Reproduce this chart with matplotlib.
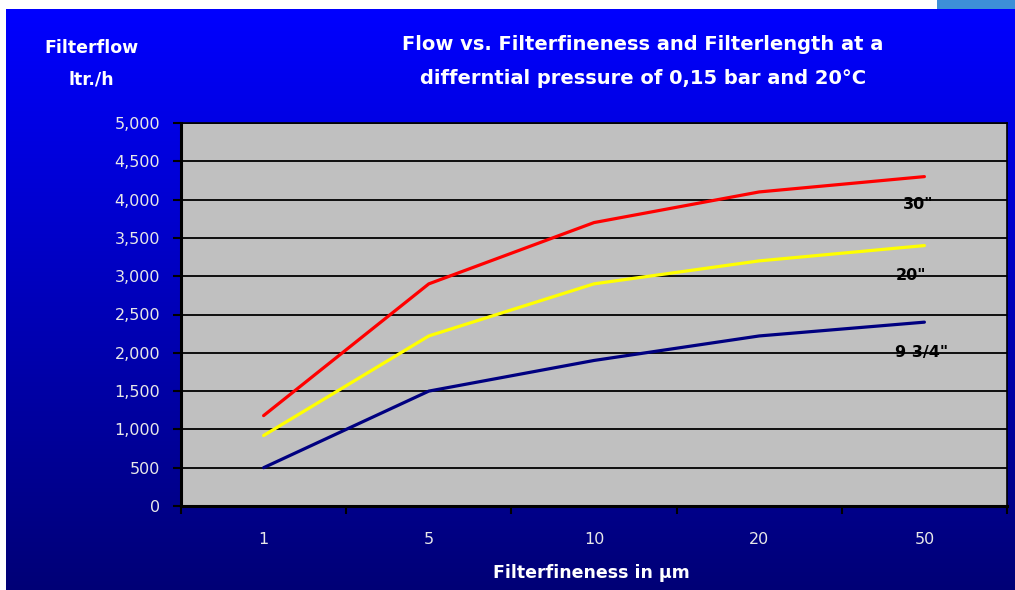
import numpy as np
import matplotlib
matplotlib.use("Agg")
import matplotlib.pyplot as plt
from matplotlib.ticker import FuncFormatter, FixedLocator

# ---- data ----
categories = ["1", "5", "10", "20", "50"]
flow_30 = [1180, 2900, 3700, 4100, 4300]
flow_20 = [920, 2220, 2900, 3200, 3400]
flow_9_75 = [500, 1500, 1900, 2220, 2400]
series_names = ['30"', '20"', '9 3/4"']
y_ticks = list(range(0, 5001, 500))

W, H = 1015, 590
fig = plt.figure(figsize=(W / 100, H / 100), dpi=100)
fig.patch.set_facecolor("white")

# background gradient
bg = fig.add_axes([6 / W, 0, 1 - 6 / W, (H - 9) / H], zorder=-10)
grad = np.linspace(0, 1, 256)[:, None]
top = np.array([0, 0, 255]) / 255
bot = np.array([0, 0, 118]) / 255
img = top[None, None, :] * (1 - grad[..., None]) + bot[None, None, :] * grad[..., None]
bg.imshow(img, aspect="auto", extent=[0, 1, 0, 1])
bg.set_axis_off()
# light blue patch top right
patch = fig.add_axes([937 / W, (H - 9) / H, 1 - 937 / W, 9 / H], zorder=-10)
patch.set_facecolor("#3d8fd8")
patch.set_xticks([]); patch.set_yticks([])
for s in patch.spines.values():
    s.set_visible(False)

ax = fig.add_axes([181 / W, 84 / H, (1007 - 181) / W, (506 - 123) / H])
ax.set_facecolor("#c0c0c0")
x = np.arange(len(categories))
ax.plot(x, flow_30, color="#ff0000", lw=2.3, solid_capstyle="round", zorder=3)
ax.plot(x, flow_20, color="#ffff00", lw=2.3, solid_capstyle="round", zorder=3)
ax.plot(x, flow_9_75, color="#000080", lw=2.3, solid_capstyle="round", zorder=3)

ax.set_xlim(-0.5, len(categories) - 0.5)
ax.set_ylim(0, 5000)
ax.set_yticks(y_ticks)
ax.yaxis.set_major_formatter(FuncFormatter(lambda v, p: f"{int(v):,}"))
ax.grid(axis="y", color="black", lw=1.3, zorder=1)
ax.set_axisbelow(True)

fam = "DejaVu Sans"

ax.set_xticks(x)
ax.set_xticklabels(categories)
ax.xaxis.set_minor_locator(FixedLocator(np.arange(-0.5, len(categories), 1.0)))
ax.tick_params(axis="x", which="major", length=0, pad=19, labelsize=11.5, labelcolor="#e8e8e8")
ax.tick_params(axis="x", which="minor", length=5.5, width=1.5, color="black")
ax.tick_params(axis="y", length=5.5, width=1.5, color="black", pad=9.5, labelsize=11.5, labelcolor="#e8e8e8")

for side in ["left", "bottom"]:
    ax.spines[side].set_linewidth(2.2)
    ax.spines[side].set_color("black")
for side in ["top", "right"]:
    ax.spines[side].set_linewidth(1.2)
    ax.spines[side].set_color("black")

# series labels
lab_pos = [(3.96, 3940), (3.92, 3010), (3.98, 2010)]
for name, (lx, ly) in zip(series_names, lab_pos):
    ax.text(lx, ly, name, ha="center", va="center", fontsize=11.5, fontweight="bold",
            color="black", family=fam, zorder=4)

fig.text(643 / W, 1 - 44 / H, "Flow vs. Filterfineness and Filterlength at a",
         ha="center", va="center", color="white", fontsize=14, fontweight="bold", family=fam)
fig.text(643 / W, 1 - 79 / H, "differntial pressure of 0,15 bar and 20°C",
         ha="center", va="center", color="white", fontsize=14, fontweight="bold", family=fam)
fig.text(91 / W, 1 - 48 / H, "Filterflow", ha="center", va="center", color="white",
         fontsize=12.5, fontweight="bold", family=fam)
fig.text(91 / W, 1 - 79 / H, "ltr./h", ha="center", va="center", color="white",
         fontsize=12.5, fontweight="bold", family=fam)
fig.text(591 / W, 1 - 573 / H, "Filterfineness in µm", ha="center", va="center", color="white",
         fontsize=12.5, fontweight="bold", family=fam)

for lbl in ax.get_xticklabels() + ax.get_yticklabels():
    lbl.set_family(fam)

fig.savefig("out.png", dpi=100)
